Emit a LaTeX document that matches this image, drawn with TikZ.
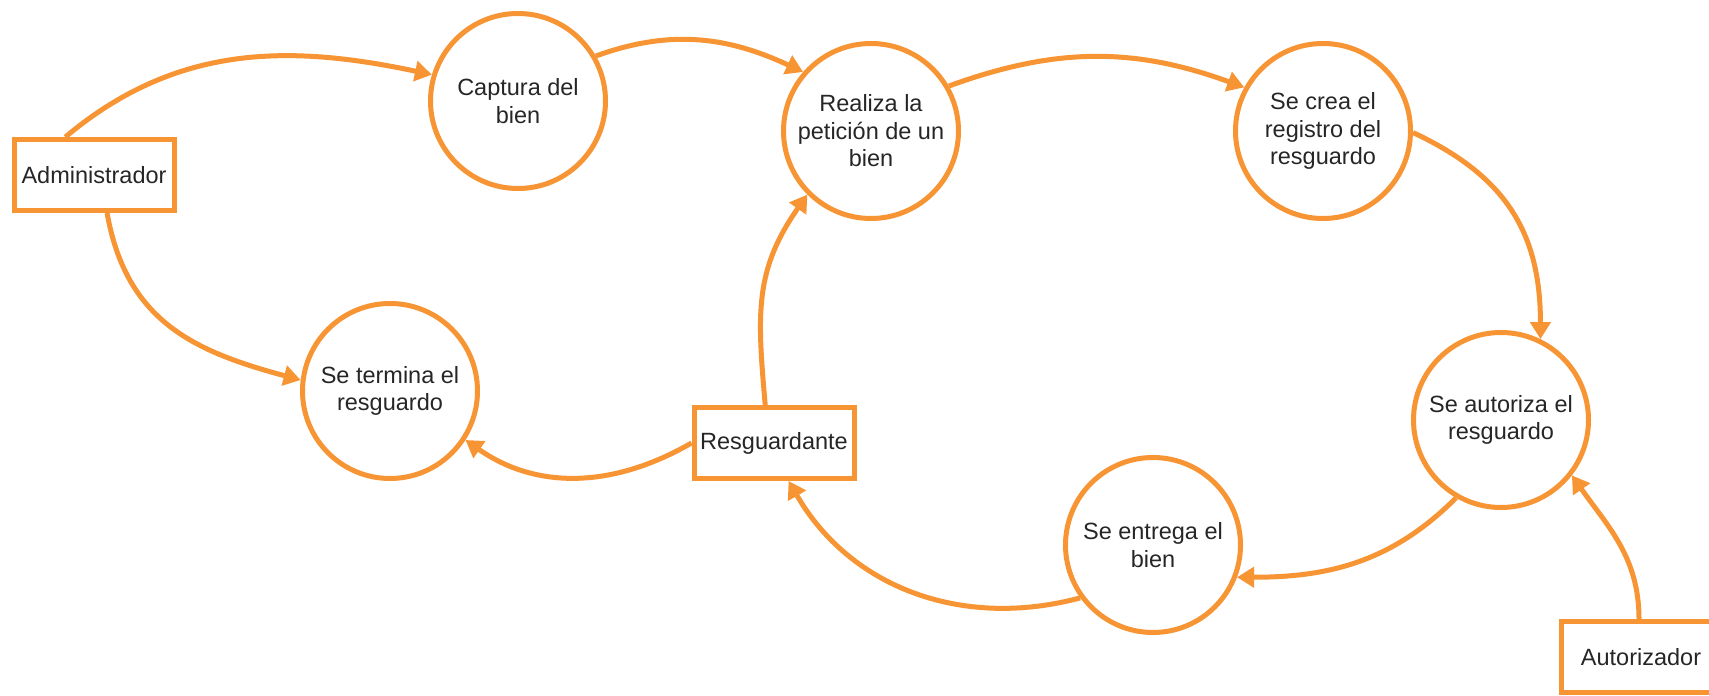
\documentclass[tikz,border=0pt]{standalone}
\usepackage{fontspec}
\setmainfont{Liberation Sans}
\usetikzlibrary{arrows.meta}
\definecolor{naranja}{RGB}{247,148,51}

\begin{document}
\begin{tikzpicture}[x=0.5pt, y=0.5pt,
        proceso/.style={circle, draw=naranja, line width=2.5pt, minimum size=87.5pt, inner sep=0pt, align=center, text=black!85, font=\fontsize{11.75}{13.75}\selectfont},
        entidad/.style={rectangle, draw=naranja, line width=2.5pt, minimum width=80pt, minimum height=35.5pt, inner sep=0pt, text=black!85, font=\fontsize{11.75}{13.75}\selectfont},
        flujo/.style={draw=naranja, line width=2.5pt, -{Triangle[length=8.5pt, width=10pt]}}]

        \useasboundingbox (0,0) rectangle (1709,696);

        \node[entidad] (adm) at (94,521){Administrador};
        \node[proceso] (cap) at (518,595){Captura del\\bien};
        \node[proceso] (pet) at (871,565){Realiza la\\petición de un\\bien};
        \node[proceso] (reg) at (1323,565){Se crea el\\registro del\\resguardo};
        \node[proceso] (aut) at (1501,276){Se autoriza el\\resguardo};
        \node[proceso] (ent) at (1153,151){Se entrega el\\bien};
        \node[proceso] (ter) at (390,305){Se termina el\\resguardo};
        \node[entidad] (resg) at (774,253){Resguardante};
        \node[entidad] (autz) at (1641,39){Autorizador};

        \draw[flujo] (adm.127) to[out=40, in=168] (cap.163);
        \draw[flujo] (cap.30) to[out=20, in=155] (pet.139);
        \draw[flujo] (pet.30) to[out=20, in=160] (reg.151);
        \draw[flujo] (reg.-1) to[out=-25, in=90, looseness=1.1] (aut.64);
        \draw[flujo] (aut.240) to[out=225, in=0] (ent.-21);
        \draw[flujo] (ent.216) to[out=195, in=-60] (resg.-69);
        \draw[flujo] (resg.west) to[out=210, in=-35] (ter.-33);
        \draw[flujo] (resg.103) to[out=95, in=235, looseness=1.1] (pet.225);
        \draw[flujo] (adm.-71) to[out=-80, in=165, looseness=1.1] (ter.173);
        \draw[flujo] (autz.93) to[out=90, in=-55] (aut.-38);

    \end{tikzpicture}
\end{document}
